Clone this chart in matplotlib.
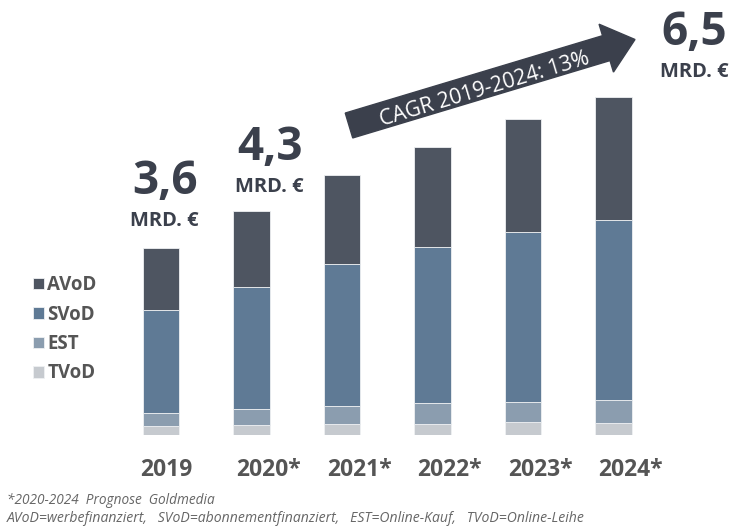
import numpy as np
import matplotlib
matplotlib.use("Agg")
import matplotlib.pyplot as plt
import matplotlib.patches as mpatches
from matplotlib.transforms import Affine2D

plt.rcParams['font.family'] = ['Open Sans', 'DejaVu Sans']

# Data (Mrd. Euro)
years = ['2019', '2020*', '2021*', '2022*', '2023*', '2024*']
tvod = [0.17, 0.19, 0.21, 0.21, 0.25, 0.23]
est = [0.25, 0.31, 0.35, 0.40, 0.38, 0.44]
svod = [1.98, 2.35, 2.73, 3.00, 3.27, 3.46]
avod = [1.20, 1.45, 1.71, 1.92, 2.18, 2.37]
segments = ['TVoD', 'EST', 'SVoD', 'AVoD']
colors = ['#c6cacf', '#8b9daf', '#5f7a95', '#4e5561']
totals_text = {0: '3,6', 1: '4,3', 5: '6,5'}
cagr_text = 'CAGR 2019-2024: 13%'
notes = ['*2020-2024  Prognose  Goldmedia',
         'AVoD=werbefinanziert,   SVoD=abonnementfinanziert,   EST=Online-Kauf,   TVoD=Online-Leihe']

W, H = 742, 527
fig = plt.figure(figsize=(W / 100, H / 100), dpi=100)
fig.patch.set_facecolor('white')

# axes: bar centre 0 at x=161px, 90.5px per bar; baseline at y=435px, 52px per unit
ax = fig.add_axes([0, 92 / H, 1, 416 / H])
ax.set_xlim(-161 / 90.5, (W - 161) / 90.5)
ax.set_ylim(0, 416 / 52)
ax.axis('off')

x = np.arange(len(years))
bottom = np.zeros(len(years))
handles = []
for name, vals, c in zip(segments, [tvod, est, svod, avod], colors):
    b = ax.bar(x, vals, width=0.4, bottom=bottom, color=c, label=name,
               edgecolor='#eef0f2', linewidth=0.6)
    handles.append(b)
    bottom += np.array(vals)

# year labels
for i, y in enumerate(years):
    shift = 0.19 if y.endswith('*') else 0.06
    ax.text(i + shift, -0.67, y, ha='center', va='center', fontsize=16.5,
            fontweight='bold', color='#555555')

# total labels
offsets = {0: (0.04, 0.52), 1: (0.2, 0.47), 5: (0.89, 0.48)}
for i, t in totals_text.items():
    dx, dy = offsets[i]
    ax.text(i + dx, bottom[i] + dy + 0.76, t, ha='center', va='center',
            fontsize=33, fontweight='bold', color='#3b404c')
    ax.text(i + dx, bottom[i] + dy, 'MRD. €', ha='center', va='center',
            fontsize=14.5, fontweight='bold', color='#3b404c')

# legend
leg = ax.legend(handles[::-1], segments[::-1], loc='upper left',
                bbox_to_anchor=(24 / W, 1 - 266 / H), bbox_transform=fig.transFigure,
                frameon=False, handlelength=0.55, handleheight=0.55,
                handletextpad=0.2, labelspacing=0.5, borderpad=0,
                prop={'weight': 'bold', 'size': 13.5})
for t in leg.get_texts():
    t.set_color('#555555')

# CAGR arrow, in image pixel coordinates
px = Affine2D().scale(1 / W, -1 / H).translate(0, 1) + fig.transFigure
arrow = mpatches.FancyArrow(349, 125.5, 286, -86, width=26, head_width=50,
                            head_length=30, length_includes_head=True,
                            color='#3b404c', transform=px)
fig.patches.append(arrow)
fig.text(485 / W, 1 - 89 / H, cagr_text, rotation=16.7, ha='center', va='center',
         fontsize=15.3, color='white')

# footnotes
fig.text(7 / W, 1 - 500 / H, notes[0], ha='left', va='center', fontsize=9.8,
         style='italic', color='#666666')
fig.text(7 / W, 1 - 518 / H, notes[1], ha='left', va='center', fontsize=10.1,
         style='italic', color='#666666')

fig.savefig('out.png', dpi=100, facecolor='white')
